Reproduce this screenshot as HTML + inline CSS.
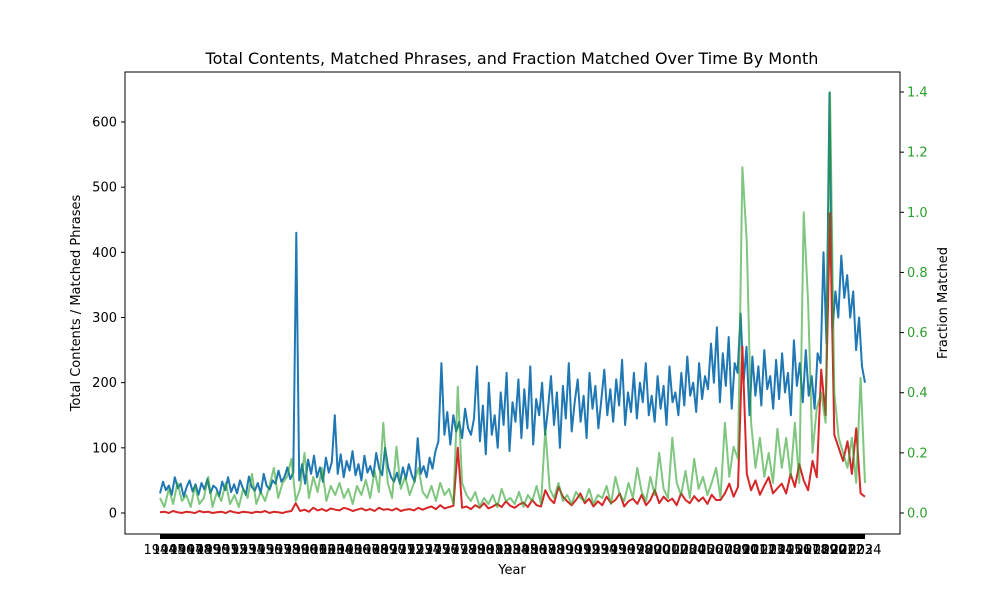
<!DOCTYPE html>
<html><head><meta charset="utf-8"><style>
body{margin:0;background:#fff}
svg{font-family:"DejaVu Sans","Liberation Sans",sans-serif}
</style></head><body>
<svg id="chart" width="1000" height="600" viewBox="0 0 1000 600">
<rect width="1000" height="600" fill="#fff"/>
<text x="512" y="64" text-anchor="middle" font-size="16">Total Contents, Matched Phrases, and Fraction Matched Over Time By Month</text>
<g id="plot"></g>
<g id="axes"></g>
<text x="512" y="574" text-anchor="middle" font-size="13">Year</text>
<text transform="translate(80,303) rotate(-90)" text-anchor="middle" font-size="13">Total Contents / Matched Phrases</text>
<text transform="translate(947,303) rotate(-90)" text-anchor="middle" font-size="13">Fraction Matched</text>
</svg>
<script>
const totalContents=[30,48,35,42,28,55,38,45,25,40,50,33,44,28,46,36,52,30,42,38,26,48,35,55,32,44,30,50,38,28,56,40,34,46,30,60,42,36,50,45,65,48,55,70,52,62,
430,
50,75,45,82,60,88,55,70,48,85,62,78,
150,
60,90,55,80,65,95,58,75,50,88,62,72,56,92,68,58,100,70,55,48,62,45,70,52,75,58,48,115,60,72,55,85,68,95,110,
230,
120,155,105,150,125,140,115,160,130,120,145,
225,
110,165,90,200,120,150,100,185,135,215,95,170,140,205,115,190,130,225,105,175,150,200,120,160,210,135,185,100,195,145,230,125,170,205,140,180,115,215,160,195,130,175,220,150,190,140,205,165,235,135,185,155,215,145,200,170,230,150,180,140,210,160,195,135,225,170,185,150,215,165,240,180,200,155,230,175,210,190,260,200,285,170,245,195,270,160,230,215,
306,
200,255,150,240,180,225,165,250,190,210,160,235,175,245,185,215,150,265,195,230,170,250,180,210,160,245,
230,400,260,645,
280,340,300,395,330,365,300,340,250,300,225,200];
const matchedPhrases=[1,2,0,3,1,0,2,1,0,3,1,2,0,1,2,0,3,1,0,2,1,0,2,1,3,0,2,1,0,2,3,
15,
3,5,2,8,4,6,3,7,5,4,8,6,3,5,7,4,6,3,8,5,6,4,7,3,5,6,4,8,5,
8,10,6,12,7,9,11,100,8,10,
6,12,8,15,7,10,14,9,18,11,8,13,16,9,20,12,10,35,22,15,40,25,18,12,20,30,15,22,10,18,
12,25,15,20,30,10,18,22,14,28,12,20,35,15,25,18,22,12,30,20,15,26,18,24,14,28,20,
20,30,45,25,40,255,60,35,50,28,42,55,30,38,
45,30,60,40,75,50,35,80,55,220,
150,460,120,100,80,110,60,130,30,25];
const fractionMatched=[0.05,0.02,0.08,0.03,0.1,0.04,0.06,0.02,0.09,0.03,0.05,0.12,0.02,0.07,0.04,0.1,0.03,0.06,0.02,0.08,0.05,0.13,0.03,0.07,0.04,0.09,0.15,0.05,0.1,0.12,0.18,
0.04,
0.08,0.2,0.05,0.12,0.07,0.15,0.04,0.09,0.06,0.1,0.05,0.08,0.03,0.09,0.06,0.11,0.05,0.14,0.07,0.3,0.1,0.05,0.22,0.08,0.12,0.06,0.1,0.15,0.07,
0.05,0.09,0.04,0.1,0.06,0.08,0.03,0.42,0.1,0.06,
0.04,0.07,0.02,0.05,0.03,0.06,0.02,0.08,0.04,0.05,0.03,0.07,0.02,0.06,0.04,0.09,0.03,0.28,0.08,0.05,0.1,0.04,0.06,0.03,0.07,0.05,0.04,0.08,0.03,0.06,
0.05,0.09,0.03,0.12,0.06,0.04,0.1,0.05,0.15,0.07,0.04,0.12,0.06,0.2,0.08,0.05,0.25,0.1,0.06,0.14,0.05,0.18,0.08,0.12,0.06,0.1,0.15,
0.05,0.3,0.12,0.22,0.18,1.15,0.9,0.3,0.15,0.25,0.12,0.2,0.1,0.28,
0.15,0.25,0.12,0.3,0.1,1.0,0.7,0.2,0.35,0.4,
0.3,1.4,0.4,0.25,0.2,0.15,0.25,0.1,0.45,0.1];
const leftTicks=[0,100,200,300,400,500,600];
const rightTicks=[0.0,0.2,0.4,0.6,0.8,1.0,1.2,1.4];
const yearStart=1944, yearEnd=2024;

const NS="http://www.w3.org/2000/svg";
const X0=160,X1=865;
const xIdx=(i,n)=>X0+i*(X1-X0)/(n-1);
const yL=v=>513-v*0.6517;
const yR=f=>513-f*300.7;
const xYear=y=>X0+(y-yearStart)*(X1-X0)/(yearEnd-yearStart);
const plot=document.getElementById('plot'), axes=document.getElementById('axes');
function mk(tag,attrs,parent){const e=document.createElementNS(NS,tag);for(const k in attrs)e.setAttribute(k,attrs[k]);parent.appendChild(e);return e;}
function line(arr,ys,color,op,name){
  const d=arr.map((v,i)=>(i?'L':'M')+xIdx(i,arr.length).toFixed(1)+','+ys(v).toFixed(1)).join('');
  const p=mk('path',{d:d,fill:'none',stroke:color,'stroke-width':2,'stroke-opacity':op,'stroke-linejoin':'round'},plot);
  
  
}
line(totalContents,yL,'#1f77b4',1,'total-contents-line');
line(matchedPhrases,yL,'#d62728',1,'matched-phrases-line');
line(fractionMatched,yR,'#2ca02c',0.6,'fraction-matched-line');
mk('rect',{x:125,y:72,width:775,height:462,fill:'none',stroke:'#000','stroke-width':1},axes);
for(const t of leftTicks){
  mk('line',{x1:121,x2:125,y1:yL(t),y2:yL(t),stroke:'#000'},axes);
  const tx=mk('text',{x:117,y:yL(t)+4.5,'text-anchor':'end','font-size':13},axes);
  tx.textContent=t;
  
  
}
for(const t of rightTicks){
  mk('line',{x1:900,x2:904,y1:yR(t),y2:yR(t),stroke:'#000'},axes);
  const tx=mk('text',{x:907,y:yR(t)+4.5,'font-size':13,fill:'#2ca02c'},axes);
  tx.textContent=t.toFixed(1);
  
  
}
mk('rect',{x:X0,y:534,width:X1-X0,height:5,fill:'#000'},axes);
for(let y=yearStart;y<=yearEnd;y++){
  const tx=mk('text',{x:xYear(y),y:554,'text-anchor':'middle','font-size':13},axes);
  tx.textContent=y;
  
  
}
</script>
</body></html>
